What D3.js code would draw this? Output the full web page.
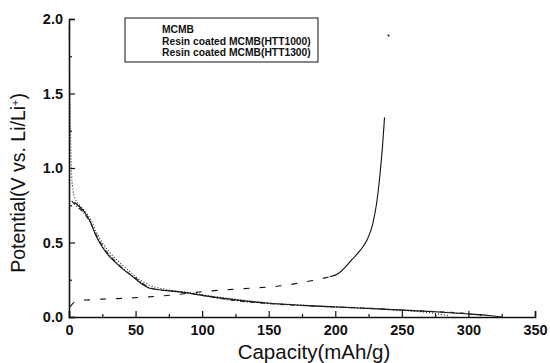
<!DOCTYPE html>
<html>
<head>
<meta charset="utf-8">
<script src="https://cdn.jsdelivr.net/npm/d3@7"></script>
<style>
  body { margin: 0; background: #fff; }
  svg { font-family: "Liberation Sans", Arial, sans-serif; }
  .tick text { font-weight: bold; }
</style>
</head>
<body>
<svg id="chart"></svg>
<script>
// tick values
var xTicks = [0, 50, 100, 150, 200, 250, 300, 350];
var yTicks = [0.0, 0.5, 1.0, 1.5, 2.0];
var legendNames = ["MCMB", "Resin coated MCMB(HTT1000)", "Resin coated MCMB(HTT1300)"];

// discharge, MCMB (solid)
var capMCMB = [4, 8, 12, 16, 20, 25, 30, 35, 40, 45, 50, 55, 60, 70, 80, 90, 100, 125, 150, 175, 200, 225, 250, 275, 300, 315, 325];
var potMCMB = [0.77, 0.74, 0.70, 0.64, 0.55, 0.47, 0.41, 0.365, 0.325, 0.29, 0.255, 0.22, 0.195, 0.18, 0.172, 0.16, 0.145, 0.115, 0.092, 0.078, 0.067, 0.057, 0.046, 0.035, 0.02, 0.01, 0.0];

// discharge, HTT1000 (dotted)
var cap1000 = [0, 0.5, 1, 1.5, 2, 3, 5, 8, 12, 16, 20, 25, 30, 35, 40, 45, 50, 55, 60, 70, 80, 90, 100, 125, 150, 175, 200, 225, 250, 270, 285];
var pot1000 = [1.95, 1.6, 1.3, 1.1, 0.95, 0.85, 0.79, 0.75, 0.71, 0.66, 0.58, 0.50, 0.44, 0.39, 0.35, 0.31, 0.27, 0.24, 0.215, 0.19, 0.175, 0.165, 0.15, 0.12, 0.095, 0.08, 0.07, 0.06, 0.045, 0.03, 0.01];

// discharge, HTT1300 (dash-dot)
var cap1300 = [2, 5, 10, 15, 20, 25, 30, 40, 50, 60, 70, 80, 90, 100, 125, 150, 175, 200, 225, 250, 275, 300, 310];
var pot1300 = [0.78, 0.75, 0.71, 0.65, 0.56, 0.48, 0.42, 0.33, 0.26, 0.2, 0.18, 0.17, 0.16, 0.145, 0.11, 0.09, 0.077, 0.067, 0.058, 0.047, 0.036, 0.022, 0.01];

// charge curve
var capCharge = [1, 4, 8, 15, 25, 40, 60, 80, 100, 130, 160, 183, 196, 202, 207, 213, 219, 224, 228, 231, 233.5, 235.5, 237];
var potCharge = [0.07, 0.1, 0.11, 0.115, 0.12, 0.125, 0.135, 0.15, 0.17, 0.19, 0.21, 0.245, 0.27, 0.29, 0.33, 0.39, 0.45, 0.52, 0.62, 0.76, 0.95, 1.15, 1.34];
var capEnd = [240];
var potEnd = [1.89];

var width = 550, height = 363;
var margin = {left: 69, right: 15, top: 19, bottom: 46};

var svg = d3.select("#chart")
  .attr("width", width)
  .attr("height", height);

var x = d3.scaleLinear().domain([0, 350]).range([margin.left, width - margin.right]);
var y = d3.scaleLinear().domain([0, 2]).range([height - margin.bottom, margin.top]);

function pairs(xs, ys) {
  return xs.map(function(d, i) { return [d, ys[i]]; });
}

var line = d3.line()
  .x(function(d) { return x(d[0]); })
  .y(function(d) { return y(d[1]); })
  .curve(d3.curveMonotoneX);

// minor ticks
svg.append("g")
  .attr("transform", "translate(0," + y(0) + ")")
  .call(d3.axisBottom(x).tickValues(d3.range(25, 350, 50)).tickSize(-3).tickFormat(""))
  .call(function(g) { g.select(".domain").remove(); });
svg.append("g")
  .attr("transform", "translate(" + x(0) + ",0)")
  .call(d3.axisLeft(y).tickValues([0.25, 0.75, 1.25, 1.75]).tickSize(-3).tickFormat(""))
  .call(function(g) { g.select(".domain").remove(); });

// major axes
var xAxis = svg.append("g")
  .attr("transform", "translate(0," + y(0) + ")")
  .call(d3.axisBottom(x).tickValues(xTicks).tickSize(-6).tickPadding(8).tickFormat(d3.format("d")));
var yAxis = svg.append("g")
  .attr("transform", "translate(" + x(0) + ",0)")
  .call(d3.axisLeft(y).tickValues(yTicks).tickSize(-6).tickPadding(6).tickFormat(d3.format(".1f")));

svg.selectAll(".domain").attr("stroke", "#111").attr("stroke-width", 1.6);
svg.selectAll(".tick line").attr("stroke", "#111").attr("stroke-width", 1.2);
xAxis.selectAll("text").attr("font-size", 14.5).attr("fill", "#111");
yAxis.selectAll("text").attr("font-size", 14.5).attr("fill", "#111");

// curves
svg.append("path")
  .attr("d", line(pairs(capMCMB, potMCMB)))
  .attr("fill", "none").attr("stroke", "#111").attr("stroke-width", 1.1);

svg.append("path")
  .attr("d", line(pairs(cap1000, pot1000)))
  .attr("fill", "none").attr("stroke", "#222").attr("stroke-width", 1.1)
  .attr("stroke-dasharray", "1,2");

svg.append("path")
  .attr("d", line(pairs(cap1300, pot1300)))
  .attr("fill", "none").attr("stroke", "#222").attr("stroke-width", 1.1)
  .attr("stroke-dasharray", "5,2,1,2");

var charge = pairs(capCharge, potCharge);
svg.append("path")
  .attr("d", line(charge.filter(function(d) { return d[0] <= 200; })))
  .attr("fill", "none").attr("stroke", "#111").attr("stroke-width", 1.1)
  .attr("stroke-dasharray", "6,10");
svg.append("path")
  .attr("d", line(charge.filter(function(d) { return d[0] >= 196; })))
  .attr("fill", "none").attr("stroke", "#111").attr("stroke-width", 1.1);

svg.selectAll(".enddot")
  .data(pairs(capEnd, potEnd))
  .enter().append("circle")
  .attr("cx", function(d) { return x(d[0]); })
  .attr("cy", function(d) { return y(d[1]); })
  .attr("r", 1)
  .attr("fill", "#111");

// legend
var legend = svg.append("g");
legend.append("rect")
  .attr("x", 125).attr("y", 18).attr("width", 193).attr("height", 44)
  .attr("fill", "#fff").attr("stroke", "#111").attr("stroke-width", 1);
legend.selectAll("text")
  .data(legendNames)
  .enter().append("text")
  .attr("x", 162)
  .attr("y", function(d, i) { return 33 + i * 11.5; })
  .attr("font-size", 10.3)
  .attr("font-weight", "bold")
  .attr("fill", "#111")
  .text(function(d) { return d; });

// axis titles
svg.append("text")
  .attr("x", 314)
  .attr("y", 359)
  .attr("text-anchor", "middle")
  .attr("font-size", 20.5)
  .attr("fill", "#111")
  .text("Capacity(mAh/g)");

var yt = svg.append("text")
  .attr("transform", "translate(25," + y(0.9) + ") rotate(-90)")
  .attr("text-anchor", "middle")
  .attr("font-size", 19.5)
  .attr("fill", "#111");
yt.append("tspan").text("Potential(V vs. Li/Li");
yt.append("tspan").attr("baseline-shift", "super").attr("font-size", 11).text("+");
yt.append("tspan").text(")");
</script>
</body>
</html>
